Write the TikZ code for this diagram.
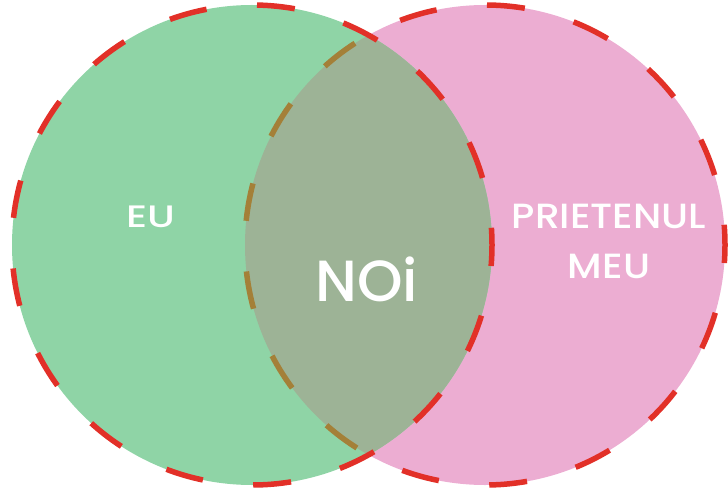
\documentclass[tikz,border=0pt]{standalone}
\usepackage{fontspec}
\setmainfont{Poppins}
\definecolor{gfill}{RGB}{143,212,166}
\definecolor{pfill}{RGB}{236,173,210}
\definecolor{ifill}{RGB}{157,179,150}
\definecolor{dred}{RGB}{226,48,40}
\definecolor{dbrown}{RGB}{164,128,56}
\tikzset{
  bord/.style={line width=5.5pt, dash pattern=on 38pt off 50.7pt},
  lbl/.style={text=white, inner sep=0pt, align=center}
}
\newfontfamily\lblfont{Poppins Medium}
\begin{document}
\begin{tikzpicture}[x=1pt,y=-1pt]
\useasboundingbox (0,0) rectangle (728,489);
\coordinate (cl) at (252,245);
\coordinate (cr) at (485,245);
% fills
\fill[pfill] (cr) circle (240);
\fill[gfill] (cl) circle (240);
\begin{scope}
  \clip (cl) circle (240);
  \fill[ifill] (cr) circle (240);
\end{scope}
% right circle border
\begin{scope}[even odd rule]
  \clip (-10,-10) rectangle (740,500) (cl) circle (240);
  \draw[bord, dred, dash phase=20pt] (cr) circle (240);
\end{scope}
\begin{scope}
  \clip (cl) circle (240);
  \draw[bord, dbrown, dash phase=20pt] (cr) circle (240);
\end{scope}
% left circle border
\draw[bord, dred, dash phase=17pt] (cl) circle (240);
% labels
\node[lbl, font=\lblfont\fontsize{31}{31}\selectfont, xscale=1.3] (eu) at (151,217) {EU};
\node[lbl, font=\lblfont\fontsize{58}{58}\selectfont] (noi) at (367,279) {NOi};
\node[lbl, font=\lblfont\fontsize{35}{35}\selectfont, xscale=1.12] (p1) at (609,216) {PRIETENUL};
\node[lbl, font=\lblfont\fontsize{35}{35}\selectfont, xscale=1.12] (p2) at (609,266) {MEU};
\end{tikzpicture}
\end{document}
